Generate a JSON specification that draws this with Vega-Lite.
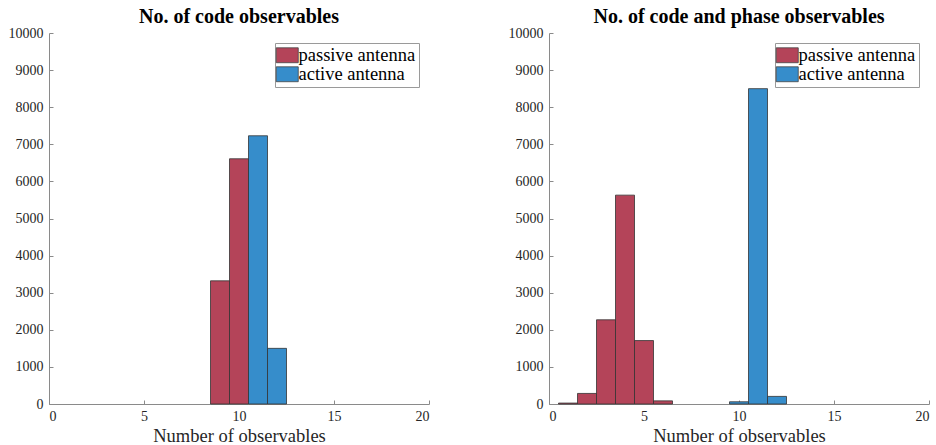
{
  "$schema": "https://vega.github.io/schema/vega-lite/v6.json",
  "background": "white",
  "padding": {"left": 8, "top": 7, "right": 0, "bottom": 2},
  "config": {
    "font": "Liberation Serif",
    "view": {"stroke": null},
    "axis": {
      "domainColor": "#8a8a8a",
      "tickColor": "#8a8a8a",
      "tickSize": -4,
      "labelPadding": 9,
      "labelColor": "#262626",
      "labelFontSize": 14,
      "labelFont": "Liberation Serif",
      "titleFont": "Liberation Serif",
      "titleFontWeight": "normal",
      "titleFontSize": 18.5,
      "titleColor": "#262626",
      "grid": false,
      "format": "d"
    },
    "title": {"font": "Liberation Serif", "fontSize": 20, "fontWeight": "bold", "color": "black", "offset": -1},
    "legend": {
      "labelFont": "Liberation Serif",
      "labelFontSize": 18.5,
      "labelColor": "black",
      "strokeColor": "#9a9a9a",
      "fillColor": "white",
      "padding": 3,
      "rowPadding": 0,
      "symbolType": "M-1.4,-0.95H1.4V0.95H-1.4Z",
      "symbolSize": 247,
      "symbolStrokeColor": "#444444",
      "symbolStrokeWidth": 0.8,
      "symbolOpacity": 1,
      "labelOffset": 2,
      "title": null,
      "orient": "top-right",
      "offset": 10
    }
  },
  "datasets": {
    "code": [
      {"antenna": "passive antenna", "x0": 8.5, "x1": 9.5, "count": 3320},
      {"antenna": "passive antenna", "x0": 9.5, "x1": 10.5, "count": 6610},
      {"antenna": "active antenna", "x0": 10.5, "x1": 11.5, "count": 7230},
      {"antenna": "active antenna", "x0": 11.5, "x1": 12.5, "count": 1500}
    ],
    "phase": [
      {"antenna": "passive antenna", "x0": 0.5, "x1": 1.5, "count": 25},
      {"antenna": "passive antenna", "x0": 1.5, "x1": 2.5, "count": 285},
      {"antenna": "passive antenna", "x0": 2.5, "x1": 3.5, "count": 2270},
      {"antenna": "passive antenna", "x0": 3.5, "x1": 4.5, "count": 5630},
      {"antenna": "passive antenna", "x0": 4.5, "x1": 5.5, "count": 1710},
      {"antenna": "passive antenna", "x0": 5.5, "x1": 6.5, "count": 85},
      {"antenna": "active antenna", "x0": 9.5, "x1": 10.5, "count": 60},
      {"antenna": "active antenna", "x0": 10.5, "x1": 11.5, "count": 8500},
      {"antenna": "active antenna", "x0": 11.5, "x1": 12.5, "count": 205}
    ]
  },
  "resolve": {"legend": {"color": "independent"}, "scale": {"color": "independent"}},
  "bounds": "flush",
  "spacing": 120,
  "hconcat": [
    {
      "title": "No. of code observables",
      "width": 380,
      "height": 371,
      "data": {"name": "code"},
      "mark": {"type": "bar", "stroke": "#333333", "strokeWidth": 0.8},
      "encoding": {
        "x": {"field": "x0", "type": "quantitative", "scale": {"domain": [0, 20], "nice": false}, "axis": {"values": [0, 5, 10, 15, 20], "title": "Number of observables", "titlePadding": 3, "format": "d"}},
        "x2": {"field": "x1"},
        "y": {"field": "count", "type": "quantitative", "scale": {"domain": [0, 10000], "nice": false}, "axis": {"values": [0, 1000, 2000, 3000, 4000, 5000, 6000, 7000, 8000, 9000, 10000], "title": null, "labelPadding": 10, "format": "d"}},
        "y2": {"datum": 0},
        "color": {"field": "antenna", "type": "nominal", "scale": {"domain": ["passive antenna", "active antenna"], "range": ["#b44459", "#368dcb"]}, "legend": {"title": null}}
      }
    },
    {
      "title": "No. of code and phase observables",
      "width": 380,
      "height": 371,
      "data": {"name": "phase"},
      "mark": {"type": "bar", "stroke": "#333333", "strokeWidth": 0.8},
      "encoding": {
        "x": {"field": "x0", "type": "quantitative", "scale": {"domain": [0, 20], "nice": false}, "axis": {"values": [0, 5, 10, 15, 20], "title": "Number of observables", "titlePadding": 3, "format": "d"}},
        "x2": {"field": "x1"},
        "y": {"field": "count", "type": "quantitative", "scale": {"domain": [0, 10000], "nice": false}, "axis": {"values": [0, 1000, 2000, 3000, 4000, 5000, 6000, 7000, 8000, 9000, 10000], "title": null, "labelPadding": 10, "format": "d"}},
        "y2": {"datum": 0},
        "color": {"field": "antenna", "type": "nominal", "scale": {"domain": ["passive antenna", "active antenna"], "range": ["#b44459", "#368dcb"]}, "legend": {"title": null}}
      }
    }
  ]
}
